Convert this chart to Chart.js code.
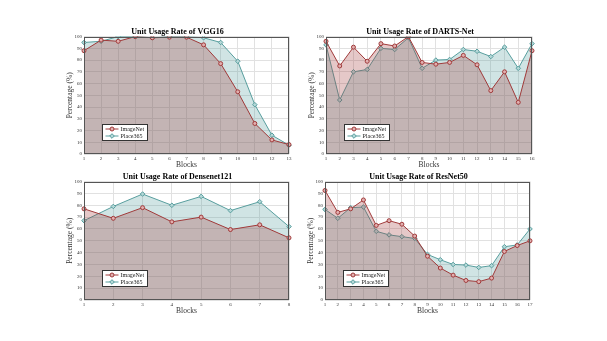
<!DOCTYPE html>
<html>
<head>
<meta charset="utf-8">
<script src="https://cdn.jsdelivr.net/npm/chart.js@4.4.0/dist/chart.umd.min.js"></script>
<style>
	body { margin: 0; background: #fff; width: 607px; height: 341px; overflow: hidden; position: relative; }
	canvas { position: absolute; }
</style>
</head>
<body>
<canvas id="vggChart" width="229" height="143" style="left:66px;top:27px"></canvas>
<canvas id="dartsChart" width="230" height="143" style="left:308px;top:27px"></canvas>
<canvas id="denseChart" width="229" height="144" style="left:66px;top:172px"></canvas>
<canvas id="resChart" width="229" height="144" style="left:307px;top:172px"></canvas>
<script>
//#region data
const vggBlocks = ['1', '2', '3', '4', '5', '6', '7', '8', '9', '10', '11', '12', '13'];
const vggImageNet = [88, 97, 96, 100, 99, 99.5, 99.5, 93, 77, 53, 26, 12, 8];
const vggPlace365 = [95, 96, 100, 100, 99, 100, 100, 99, 95, 79, 42, 16, 7.5];

const dartsBlocks = ['1', '2', '3', '4', '5', '6', '7', '8', '9', '10', '11', '12', '13', '14', '15', '16'];
const dartsImageNet = [96, 75, 91, 79, 94, 92, 100, 78, 76.5, 78, 84, 76, 54, 70, 44, 88];
const dartsPlace365 = [93, 46, 70, 72, 90, 89, 99, 73, 80, 80.5, 89, 87.5, 83, 91, 73, 94];

const denseBlocks = ['1', '2', '3', '4', '5', '6', '7', '8'];
const denseImageNet = [77, 69, 78, 66, 70, 59.5, 63.5, 52.5];
const densePlace365 = [67, 79, 89.5, 80, 87.5, 75.5, 83, 62];

const resBlocks = ['1', '2', '3', '4', '5', '6', '7', '8', '9', '10', '11', '12', '13', '14', '15', '16', '17'];
const resImageNet = [92.5, 74, 77, 84.5, 63, 67, 64, 54, 37, 27, 21, 16.5, 15.5, 18.5, 41, 46, 50];
const resPlace365 = [76.5, 69, 78, 78.5, 58, 55, 53.5, 52, 38.5, 34, 30, 29.5, 27.5, 29, 45, 46.5, 60];

const yTicks = [0, 10, 20, 30, 40, 50, 60, 70, 80, 90, 100];
//#endregion

const serif = '"Liberation Serif", "Times New Roman", serif';
const redLine = 'rgb(160, 58, 58)';
const redFill = 'rgba(160, 50, 50, 0.27)';
const tealLine = 'rgb(88, 158, 158)';
const tealFill = 'rgba(80, 155, 155, 0.27)';

//box round the plot area
const framePlugin = {
	id: 'frame',
	afterDatasetsDraw(chart) {
		const { ctx, chartArea: a } = chart;
		ctx.save();
		ctx.strokeStyle = '#555';
		ctx.lineWidth = 1;
		ctx.strokeRect(Math.round(a.left) + 0.5, Math.round(a.top) + 0.5, Math.round(a.right - a.left) - 1, Math.round(a.bottom - a.top) - 1);
		ctx.restore();
	}
};

//legend box in the lower left corner of the plot
const boxLegend = {
	id: 'boxLegend',
	afterDraw(chart) {
		const { ctx, chartArea: a } = chart;
		const x = Math.round(a.left) + 18.5;
		const y = Math.round(a.bottom) - 29.5;
		const w = 45, h = 16;
		ctx.save();
		ctx.fillStyle = '#fff';
		ctx.fillRect(x, y, w, h);
		ctx.strokeStyle = '#333';
		ctx.lineWidth = 1;
		ctx.strokeRect(x, y, w, h);
		chart.data.datasets.forEach((ds, i) => {
			const ly = y + 4.5 + i * 7;
			ctx.strokeStyle = ds.borderColor;
			ctx.lineWidth = 1;
			ctx.beginPath();
			ctx.moveTo(x + 3, ly);
			ctx.lineTo(x + 16, ly);
			ctx.stroke();
			ctx.fillStyle = ds.pointBackgroundColor;
			Chart.helpers.drawPoint(ctx, { pointStyle: ds.pointStyle, radius: ds.pointRadius, borderWidth: 1, rotation: 0 }, x + 9.5, ly);
			ctx.fillStyle = '#222';
			ctx.font = '6px ' + serif;
			ctx.textBaseline = 'middle';
			ctx.fillText(ds.label, x + 18, ly + 0.5);
		});
		ctx.restore();
	}
};

function makeChart(id, title, labels, imageNet, place365) {
	return new Chart(document.getElementById(id), {
		type: 'line',
		data: {
			labels: labels,
			datasets: [{
				label: 'ImageNet',
				data: imageNet,
				borderColor: redLine,
				backgroundColor: redFill,
				borderWidth: 1,
				pointStyle: 'circle',
				pointRadius: 2,
				pointBorderColor: redLine,
				pointBackgroundColor: 'rgb(225, 175, 175)',
				pointBorderWidth: 1,
				fill: 'origin',
				tension: 0
			}, {
				label: 'Place365',
				data: place365,
				borderColor: tealLine,
				backgroundColor: tealFill,
				borderWidth: 1,
				pointStyle: 'rectRot',
				pointRadius: 2.3,
				pointBorderColor: tealLine,
				pointBackgroundColor: 'rgb(180, 215, 215)',
				pointBorderWidth: 1,
				fill: 'origin',
				tension: 0
			}]
		},
		options: {
			responsive: false,
			animation: false,
			layout: { padding: { top: 0, right: 6, bottom: 0, left: 0 } },
			plugins: {
				legend: { display: false },
				tooltip: { enabled: false },
				title: {
					display: true,
					text: title,
					color: '#000',
					font: { family: serif, size: 8, weight: 'bold' },
					padding: { top: 0, bottom: 0 }
				}
			},
			scales: {
				x: {
					offset: false,
					grid: { color: 'rgb(225, 225, 225)', lineWidth: 1, drawTicks: false },
					border: { display: false },
					ticks: { color: '#333', font: { family: serif, size: 5 }, padding: 2, maxRotation: 0, autoSkip: false },
					title: { display: true, text: 'Blocks', color: '#333', font: { family: serif, size: 7.5 }, padding: 0 },
					afterFit(scale) { scale.height = 16; }
				},
				y: {
					min: 0,
					max: 100,
					afterBuildTicks(scale) { scale.ticks = yTicks.map(v => ({ value: v })); },
					grid: { color: 'rgb(225, 225, 225)', lineWidth: 1, drawTicks: false },
					border: { display: false },
					ticks: { color: '#333', font: { family: serif, size: 5 }, padding: 2 },
					title: { display: true, text: 'Percentage (%)', color: '#333', font: { family: serif, size: 7.5 }, padding: 0 },
					afterFit(scale) { scale.width = 18; }
				}
			}
		},
		plugins: [framePlugin, boxLegend]
	});
}

makeChart('vggChart', 'Unit Usage Rate of VGG16', vggBlocks, vggImageNet, vggPlace365);
makeChart('dartsChart', 'Unit Usage Rate of DARTS-Net', dartsBlocks, dartsImageNet, dartsPlace365);
makeChart('denseChart', 'Unit Usage Rate of Densenet121', denseBlocks, denseImageNet, densePlace365);
makeChart('resChart', 'Unit Usage Rate of ResNet50', resBlocks, resImageNet, resPlace365);
</script>
</body>
</html>
